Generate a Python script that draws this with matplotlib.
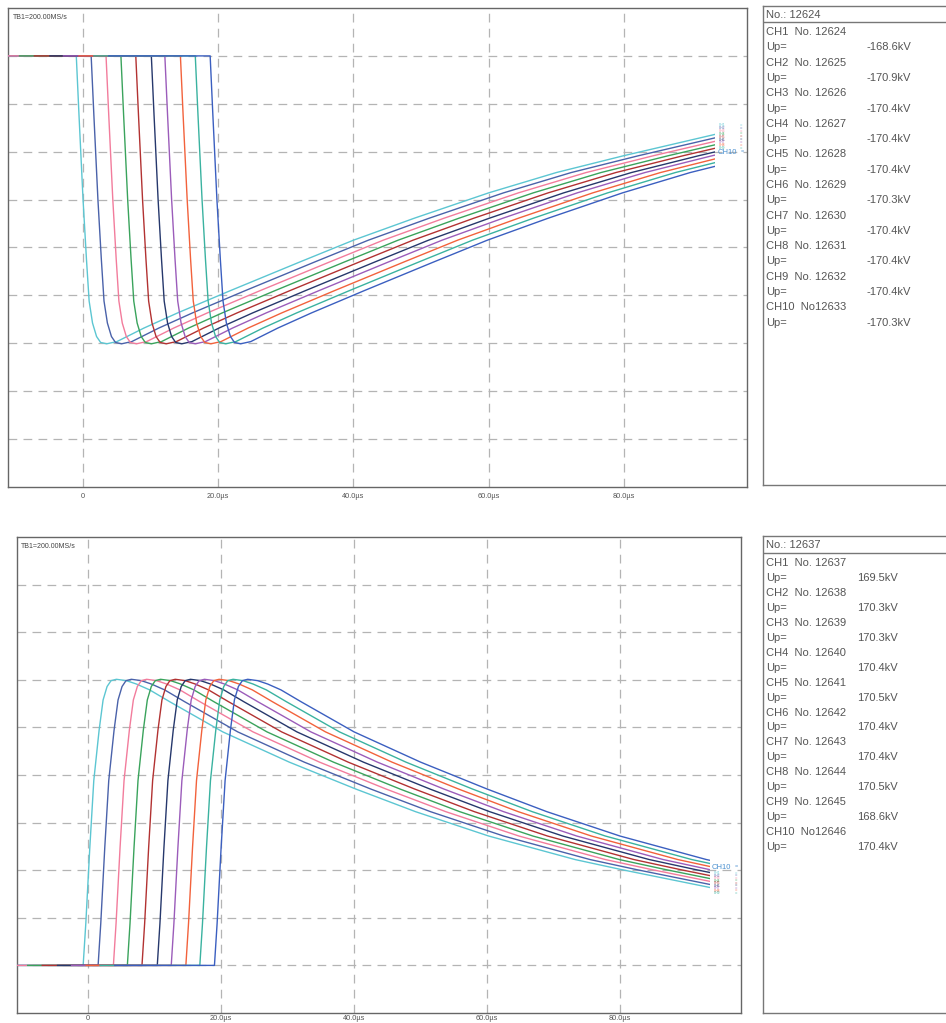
import numpy as np
import matplotlib.pyplot as plt
from matplotlib.patches import Rectangle

plt.rcParams['font.family'] = ['Liberation Sans', 'DejaVu Sans']

# ---- data ----
channels = ['CH1', 'CH2', 'CH3', 'CH4', 'CH5', 'CH6', 'CH7', 'CH8', 'CH9', 'CH10']
colors = ['#5cc6d2', '#4a62aa', '#f27c9c', '#3aa35c', '#b23232',
          '#26386c', '#9b5cba', '#f2623c', '#3ab2a0', '#3b5fc0']

# trigger time of each channel (us)
t0_neg = [-1.0, 1.2, 3.4, 5.6, 7.8, 10.1, 12.1, 14.4, 16.6, 18.8]
t0_pos = [-0.75, 1.5, 3.8, 5.9, 8.1, 10.4, 12.5, 14.7, 16.8, 19.0]

# waveform shape, time after trigger (us) and voltage (kV)
tau_neg = [-15, 0, 0.4, 1.0, 1.5, 1.9, 2.4, 3.0, 3.6, 4.5, 6, 10, 15, 22.7,
           33, 41, 50, 61, 71, 81, 96]
u_neg = [0, 0, -35, -85, -120, -145, -158, -166, -169.5, -170.3, -169, -161,
         -152, -139, -122, -109, -96, -81, -69, -59, -45]

tau_pos = [-15, 0, 0.4, 1.0, 1.6, 2.4, 3.0, 3.6, 4.2, 5.0, 6.5, 8, 10, 13,
           17, 21, 26, 31, 36, 41, 50, 61, 74, 81, 96]
u_pos = [0, 0, 25, 70, 110, 140, 158, 166, 169.5, 170.3, 169.5, 167.5, 164,
         157, 148, 139, 130, 121, 113, 105, 91.5, 77, 63, 57, 45]

rec_end = 93.5   # end of record (us)

nums_neg = ['12624', '12625', '12626', '12627', '12628', '12629', '12630',
            '12631', '12632', '12633']
up_neg = ['-168.6', '-170.9', '-170.4', '-170.4', '-170.4', '-170.3', '-170.4',
          '-170.4', '-170.4', '-170.3']
nums_pos = ['12637', '12638', '12639', '12640', '12641', '12642', '12643',
            '12644', '12645', '12646']
up_pos = ['169.5', '170.3', '170.3', '170.4', '170.5', '170.4', '170.4',
          '170.5', '168.6', '170.4']

xticks = [0, 20, 40, 60, 80]
xticklabels = ['0', '20.0µs', '40.0µs', '60.0µs', '80.0µs']

DIV = 170.0 / 6
W, H = 946, 1023

fig = plt.figure(figsize=(W / 100, H / 100), dpi=100)
fig.patch.set_facecolor('white')


def px_axes(x0, y0, x1, y1):
    return fig.add_axes([x0 / W, 1 - y1 / H, (x1 - x0) / W, (y1 - y0) / H])


def scope(ax, t0s, tau, u, xlim, ylim, gridlevels, lab_y, tiny_y, pad):
    ax.set_xlim(*xlim)
    ax.set_ylim(*ylim)
    for v in gridlevels:
        ax.axhline(v, color='#b4b4b4', lw=0.9, dashes=(7, 5), zorder=1)
    for x in xticks:
        ax.axvline(x, color='#b4b4b4', lw=0.9, dashes=(7, 5), zorder=1)
    clip = Rectangle((xlim[0], ylim[0]), rec_end - xlim[0], ylim[1] - ylim[0],
                     transform=ax.transData, visible=False)
    ax.add_patch(clip)
    for i in range(len(channels)):
        t = np.array(tau) + t0s[i]
        ln, = ax.plot(t, u, color=colors[i], lw=1.0, zorder=3)
        ln.set_clip_path(clip)
    # channel tags at the end of the record
    for i in range(len(channels) - 1):
        ax.text(rec_end + 0.6, tiny_y[i], channels[i], color=colors[i],
                fontsize=2.3, va='center', ha='left')
        ax.text(97.2, tiny_y[i], '=', color=colors[i], fontsize=3,
                va='center', ha='left')
    ax.text(rec_end + 0.3, lab_y, 'CH10', color='#4a90d0', fontsize=5.5,
            va='center', ha='left')
    ax.text(97.2, lab_y, '=', color='#4a90d0', fontsize=4,
            va='center', ha='left')
    ax.set_xticks(xticks)
    ax.set_xticklabels(xticklabels, fontsize=5.3, color='#555555')
    ax.set_yticks([])
    ax.tick_params(axis='x', length=0, pad=pad)
    for s in ax.spines.values():
        s.set_color('#666666')
        s.set_linewidth(1.0)
    ax.text(0.006, 0.988, 'TB1=200.00MS/s', transform=ax.transAxes,
            fontsize=5, color='#444444', va='top', ha='left')


def info_box(y0, y1, header, nums, ups, rows_top, pitch, val_right):
    ax = px_axes(763, y0, W + 5, y1)
    ax.set_xlim(763, W + 5)
    ax.set_ylim(y1, y0)
    ax.set_xticks([])
    ax.set_yticks([])
    ax.spines['right'].set_visible(False)
    for s in ['left', 'top', 'bottom']:
        ax.spines[s].set_color('#777777')
        ax.spines[s].set_linewidth(1.0)
    ax.axhline(y0 + 16.5, color='#777777', lw=1.0)
    kw = dict(fontsize=8, color='#555555', va='center')
    ax.text(766, y0 + 9.5, header, ha='left', **kw)
    for i in range(len(nums)):
        y = rows_top + 2 * i * pitch
        lab = 'CH%d  No. %s' % (i + 1, nums[i]) if i < 9 else 'CH10  No%s' % nums[i]
        ax.text(766, y, lab, ha='left', **kw)
        ax.text(766, y + pitch, 'Up=', ha='left', **kw)
        ax.text(val_right, y + pitch, ups[i] + 'kV', ha='right', **kw)


ax1 = px_axes(8, 8, 747, 487)
scope(ax1, t0_neg, tau_neg, u_neg, (-11.1, 98.2), (-9 * DIV, DIV),
      [-k * DIV for k in range(9)], -57,
      [-41, -42.7, -44.4, -46.1, -47.8, -49.5, -51.2, -52.9, -54.6], 4)

ax2 = px_axes(17, 537, 741, 1013)
scope(ax2, t0_pos, tau_pos, u_pos, (-10.7, 98.2), (-DIV, 9 * DIV),
      [k * DIV for k in range(9)], 58.4,
      [55, 53.5, 52, 50.5, 49, 47.5, 46, 44.5, 43], 1.5)

info_box(6, 485, 'No.: 12624', nums_neg, up_neg, 32, 15.3, 911)
info_box(536, 1013, 'No.: 12637', nums_pos, up_pos, 563, 14.95, 898)

fig.savefig('out.png', dpi=100, facecolor='white')
